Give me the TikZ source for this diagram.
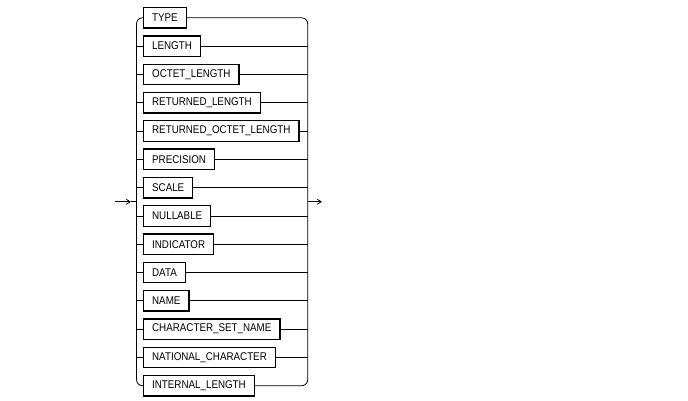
\documentclass[tikz,border=0pt]{standalone}
\usepackage{fontspec}
\setmainfont{Liberation Sans}
\usetikzlibrary{arrows.meta}
\begin{document}
\begin{tikzpicture}[x=1pt,y=-1pt,
  kw/.style={draw,line width=1.3pt,inner xsep=8.5pt,inner ysep=0pt,minimum height=20.5pt,
    font=\fontsize{10}{12}\selectfont,anchor=west},
  conn/.style={line width=0.8pt},
  tip/.style={-{Straight Barb[length=4pt,width=5pt,line width=0.8pt]}}]
\useasboundingbox (0,0) rectangle (688,400);
\coordinate (lv) at (136.5,0);
\coordinate (rv) at (307.7,0);
\foreach \t [count=\i from 0] in {TYPE,LENGTH,OCTET\_LENGTH,RETURNED\_LENGTH,RETURNED\_OCTET\_LENGTH,PRECISION,SCALE,NULLABLE,INDICATOR,DATA,NAME,CHARACTER\_SET\_NAME,NATIONAL\_CHARACTER,INTERNAL\_LENGTH}{
  \node[kw] (r\i) at (143,17.8+28.3*\i) {\scalebox{0.98}[1.12]{\t}};
}
% top and bottom rows with rounded corners
\draw[conn,rounded corners=6pt] (r0.west) -- (r0.west -| lv) -- (r13.west -| lv) -- (r13.west);
\draw[conn,rounded corners=6pt] (r0.east) -- (r0.east -| rv) -- (r13.east -| rv) -- (r13.east);
% middle rows
\foreach \i in {1,...,12}{
  \draw[conn] (r\i.west -| lv) -- (r\i.west);
  \draw[conn] (r\i.east) -- (r\i.east -| rv);
}
% entry and exit
\coordinate (in0) at (115,201.75);
\coordinate (inA) at (131,201.75);
\coordinate (inL) at (136.5,201.75);
\coordinate (outR) at (307.7,201.75);
\coordinate (out0) at (322,201.75);
\draw[conn,tip] (in0) -- (inA);
\draw[conn] (inA) -- (inL);
\draw[conn,tip] (outR) -- (out0);
\end{tikzpicture}
\end{document}
